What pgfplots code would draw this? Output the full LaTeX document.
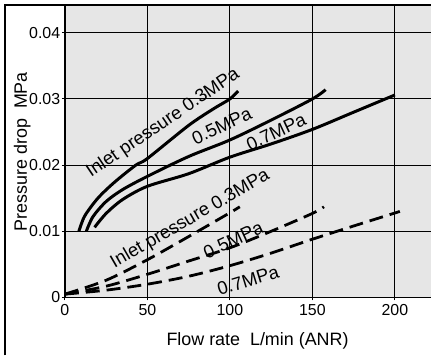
\documentclass[border=0pt]{standalone}
\usepackage{pgfplots}
\pgfplotsset{compat=1.18}
\usepackage{fontspec}
\setmainfont{Liberation Sans}
\definecolor{bg}{RGB}{230,230,230}
\newcommand{\lbl}{\fontsize{18.5}{21}\selectfont}
\begin{document}
\begin{tikzpicture}
\begin{axis}[
  scale only axis, width=367bp, height=293bp,
  at={(0,0)}, anchor=south west,
  xmin=0, xmax=222, ymin=0, ymax=0.0442,
  scaled y ticks=false, scaled x ticks=false,
  axis background/.style={fill=bg},
  axis x line*=bottom, axis y line*=left,
  axis line style={black, line width=1.6pt, -},
  xtick={0,50,100,150,200}, xticklabels={0,50,100,150,200},
  ytick={0,0.01,0.02,0.03,0.04}, yticklabels={0,0.01,0.02,0.03,0.04},
  grid=major, major grid style={black, line width=1.1pt},
  tick style={black, line width=1.1pt}, major tick length=3bp, tick align=outside,
  ticklabel style={font=\fontsize{16}{19}\selectfont},
  yticklabel style={inner sep=1.5bp},
  clip=true,
]
% solid curves
\addplot[black, line width=3pt, smooth] coordinates {
 (8.5,0.0100) (12,0.0123) (20,0.0150) (30,0.0174) (43,0.0200) (50,0.0210)
 (75,0.0260) (90,0.0285) (100,0.0300) (105,0.0312)};
\addplot[black, line width=3pt, smooth] coordinates {
 (13,0.0100) (17,0.0122) (25,0.0145) (35,0.0163) (50,0.0183) (75,0.0213)
 (100,0.0238) (125,0.0268) (150,0.0300) (158,0.0314)};
\addplot[black, line width=3pt, smooth] coordinates {
 (18,0.0106) (25,0.0127) (35,0.0148) (50,0.0168) (75,0.0187) (100,0.0212)
 (125,0.0232) (150,0.0254) (175,0.0280) (200,0.0306)};
% dashed curves
\addplot[black, line width=2.8pt, dash pattern=on 14bp off 7bp, smooth] coordinates {
 (0,0.0005) (25,0.0026) (50,0.0057) (75,0.0092) (100,0.0128) (106,0.0137)};
\addplot[black, line width=2.8pt, dash pattern=on 14bp off 7bp, smooth] coordinates {
 (0,0.0005) (25,0.0017) (50,0.0035) (75,0.0055) (100,0.0075) (125,0.0100) (150,0.0127) (157,0.0137)};
\addplot[black, line width=2.8pt, dash pattern=on 14bp off 7bp, smooth] coordinates {
 (0,0.0005) (25,0.0011) (50,0.0020) (75,0.0032) (100,0.0048) (125,0.0067) (150,0.0088) (175,0.0108) (203,0.0130)};
% labels
\node[rotate=34, font=\lbl] at (axis cs:59.5,0.0263) {Inlet pressure 0.3MPa};
\node[rotate=25, font=\lbl] at (axis cs:95,0.0259) {0.5MPa};
\node[rotate=25, font=\lbl] at (axis cs:128,0.0250) {0.7MPa};
\node[rotate=30, font=\lbl] at (axis cs:76,0.0118) {Inlet pressure 0.3MPa};
\node[rotate=25, font=\lbl] at (axis cs:102,0.0087) {0.5MPa};
\node[rotate=17, font=\lbl] at (axis cs:111,0.0026) {0.7MPa};
\end{axis}
\node[font=\fontsize{18}{21}\selectfont, anchor=base] at (193bp,-48bp) {Flow rate\ \ L/min (ANR)};
\node[font=\fontsize{18}{21}\selectfont, rotate=90, anchor=base] at (-38bp,146bp) {Pressure drop\ \ MPa};
\draw[line width=1.4pt] (-60bp,-58bp) -- (-60bp,293bp) -- (367bp,293bp);
\path[use as bounding box] (-65bp,-60bp) rectangle (367bp,298bp);
\end{tikzpicture}
\end{document}
